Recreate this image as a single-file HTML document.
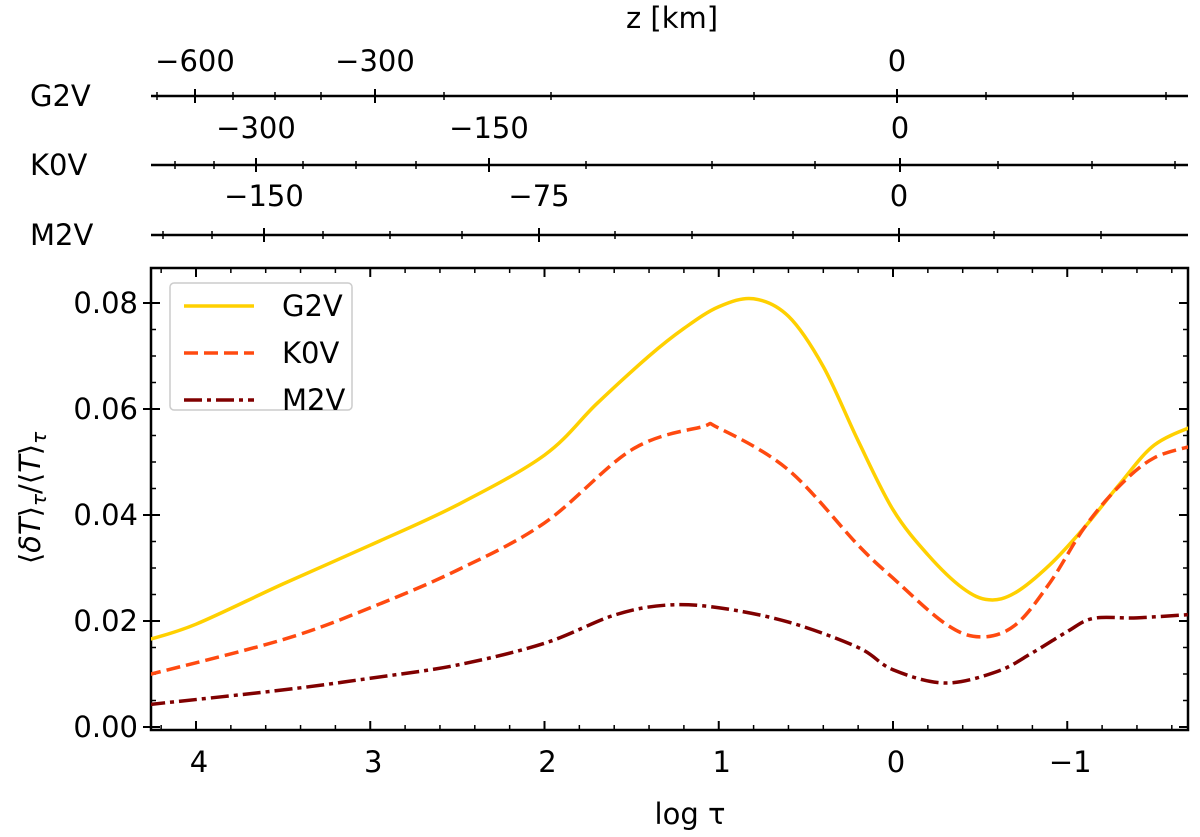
<!DOCTYPE html>
<html><head><meta charset="utf-8"><style>
body{margin:0;background:#fff}
svg{display:block;font-family:"DejaVu Sans","Liberation Sans",sans-serif}
</style></head><body>
<svg id="c" width="1200" height="837" viewBox="0 0 1200 837"></svg>
<script>
const logTau=[4.28,4,3.5,3,2.5,2,1.7,1.4,1.2,1,0.8,0.6,0.4,0.2,0,-0.2,-0.4,-0.55,-0.7,-0.9,-1.1,-1.3,-1.5,-1.74];
const g2v=[0.0164,0.0194,0.0270,0.0343,0.0419,0.0513,0.0610,0.0700,0.0752,0.0793,0.0808,0.0775,0.0680,0.0540,0.0410,0.0325,0.0262,0.0240,0.0253,0.0306,0.0377,0.0458,0.0532,0.0570];
const k0vTau=[4.28,3.5,3,2.5,2,1.5,1.1,1,0.6,0.2,0,-0.3,-0.5,-0.7,-0.9,-1.1,-1.3,-1.5,-1.74];
const k0v=[0.0098,0.0165,0.0225,0.0296,0.0385,0.0523,0.0566,0.0564,0.0485,0.0343,0.0281,0.0195,0.0170,0.0192,0.0272,0.0377,0.0455,0.0508,0.0532];
const m2vTau=[4.28,3.5,3,2.5,2,1.6,1.3,1,0.6,0.2,0,-0.3,-0.6,-0.8,-1.0,-1.15,-1.4,-1.74];
const m2v=[0.0042,0.0070,0.0092,0.0117,0.0158,0.0211,0.0230,0.0225,0.0198,0.0150,0.0108,0.0083,0.0105,0.0140,0.0180,0.0205,0.0206,0.0213];
const xTicks=[4,3,2,1,0,-1];
const yTicks=[0,0.02,0.04,0.06,0.08];
const zAxes=[
 {name:'G2V',y:96,labelY:71,major:[[-600,195],[-300,375],[0,897]],minor:[157,233,275,321,444,551,754,986,1073,1166]},
 {name:'K0V',y:165,labelY:138,major:[[-300,256],[-150,489],[0,900]],minor:[175,214,303,356,416,586,712,815,998,1092,1175]},
 {name:'M2V',y:235,labelY:206,major:[[-150,264],[-75,539],[0,899]],minor:[163,212,323,390,462,615,692,793,994,1101]}
];
const L=151,R=1188,T=268,B=730;
const X=l=>893-l*174.25;
const Y=v=>727-v*5300;
const svg=document.getElementById('c');
const NS='http://www.w3.org/2000/svg';
function mk(tag,attrs,parent){const e=document.createElementNS(NS,tag);for(const k in attrs)e.setAttribute(k,attrs[k]);(parent||svg).appendChild(e);return e;}
function txt(s,x,y,anchor,size,name){const t=mk('text',{x:x,y:y,'text-anchor':anchor,'font-size':size});t.textContent=s;return t;}
const FS=29;
zAxes.forEach(a=>{
  const g=mk('g',{});
  
  
  mk('line',{x1:L,x2:R,y1:a.y,y2:a.y,stroke:'#000','stroke-width':2.5},g);
  a.major.forEach(m=>{mk('line',{x1:m[1],x2:m[1],y1:a.y-7,y2:a.y+7,stroke:'#000','stroke-width':2},g);
    const t=txt((m[0]<0?'\u2212'+(-m[0]):'0'),m[1],a.labelY,'middle',FS,'z-tick-label');g.appendChild(t);});
  a.minor.forEach(x=>mk('line',{x1:x,x2:x,y1:a.y-4,y2:a.y+4,stroke:'#000','stroke-width':1.5},g));
  const n=txt(a.name,30,a.y+10,'start',FS,'z-axis-name');g.appendChild(n);
});
txt('z [km]',672,28,'middle',FS,'z-axis-title');

const ax=mk('g',{});


for(let l=4.2;l>=-1.7;l-=0.2){const x=X(l);if(x<L||x>R)continue;
  mk('line',{x1:x,x2:x,y1:B,y2:B-5,stroke:'#000','stroke-width':1.5},ax);
  mk('line',{x1:x,x2:x,y1:T,y2:T+5,stroke:'#000','stroke-width':1.5},ax);}
xTicks.forEach(l=>{const x=X(l);
  mk('line',{x1:x,x2:x,y1:B,y2:B-9,stroke:'#000','stroke-width':2},ax);
  mk('line',{x1:x,x2:x,y1:T,y2:T+9,stroke:'#000','stroke-width':2},ax);
  ax.appendChild(txt(l<0?'\u2212'+(-l):String(l),x+3,B+42,'middle',FS,'x-tick-label'));});
for(let v=0;v<=0.081;v+=0.005){const y=Y(v);
  mk('line',{x1:L,x2:L+5,y1:y,y2:y,stroke:'#000','stroke-width':1.5},ax);
  mk('line',{x1:R,x2:R-5,y1:y,y2:y,stroke:'#000','stroke-width':1.5},ax);}
yTicks.forEach(v=>{const y=Y(v);
  mk('line',{x1:L-8,x2:L+9,y1:y,y2:y,stroke:'#000','stroke-width':2},ax);
  mk('line',{x1:R,x2:R-9,y1:y,y2:y,stroke:'#000','stroke-width':2},ax);
  ax.appendChild(txt(v.toFixed(2),138,y+10,'end',FS,'y-tick-label'));});

function smooth(pts){
  let d='M'+pts[0][0]+','+pts[0][1];
  for(let i=0;i<pts.length-1;i++){
    const p0=pts[i-1]||pts[i],p1=pts[i],p2=pts[i+1],p3=pts[i+2]||p2;
    const c1=[p1[0]+(p2[0]-p0[0])/6,p1[1]+(p2[1]-p0[1])/6];
    const c2=[p2[0]-(p3[0]-p1[0])/6,p2[1]-(p3[1]-p1[1])/6];
    d+=' C'+c1+' '+c2+' '+p2;
  }
  return d;
}
const clip=mk('clipPath',{id:'cp'});mk('rect',{x:L,y:T,width:R-L,height:B-T},clip);
function series(xs,vs,color,dash,name){
  const p=mk('path',{d:smooth(xs.map((l,i)=>[X(l),Y(vs[i])])),fill:'none',stroke:color,'stroke-width':3.5,'stroke-dasharray':dash,'stroke-linejoin':'round','clip-path':'url(#cp)'});
  
  
}
series(logTau,g2v,'#FFD000','none','g2v-line');
series(k0vTau,k0v,'#FF4A10','14,6','k0v-line');
series(m2vTau,m2v,'#800000','18,5,4,5','m2v-line');
mk('rect',{x:L,y:T,width:R-L,height:B-T,fill:'none',stroke:'#000','stroke-width':2.5},ax);

const lg=mk('g',{});


mk('rect',{x:170,y:283,width:182,height:127,rx:4,fill:'#fff',stroke:'#ccc','stroke-width':1.5},lg);
[['G2V','#FFD000','none',306],['K0V','#FF4A10','14,6',353],['M2V','#800000','18,5,4,5',400]].forEach(e=>{
  const l=mk('line',{x1:184,x2:254,y1:e[3],y2:e[3],stroke:e[1],'stroke-width':3.5,'stroke-dasharray':e[2]},lg);
  
  
  lg.appendChild(txt(e[0],282,e[3]+10,'start',FS,'legend-label'));
});

txt('log \u03c4',690,824,'middle',FS,'x-axis-title');
const yt=mk('text',{x:0,y:0,'text-anchor':'middle','font-size':FS,transform:'translate(40,498) rotate(-90)'});


yt.innerHTML='\u27e8<tspan font-style="italic">\u03b4T</tspan>\u27e9<tspan font-size="20" dy="6" font-style="italic">\u03c4</tspan><tspan dy="-6">/\u27e8</tspan><tspan font-style="italic">T</tspan>\u27e9<tspan font-size="20" dy="6" font-style="italic">\u03c4</tspan>';
</script>
</body></html>
